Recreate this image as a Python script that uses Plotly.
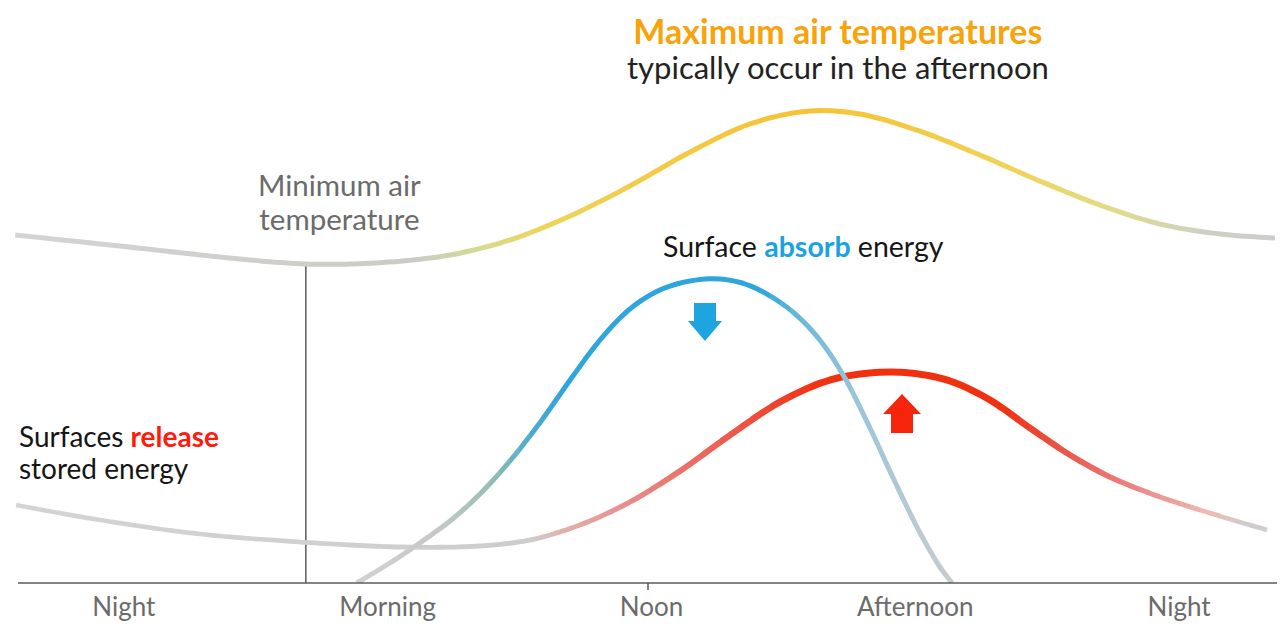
import plotly.graph_objects as go

# ---------------- data (hour of day, relative level) ----------------
time_labels = ["Night", "Morning", "Noon", "Afternoon", "Night"]
time_ticks = [0, 6, 12, 18, 24]

air_hours = [-2.47, -0.09, 2.19, 4.12, 6.05, 7.42, 8.78, 10.15, 11.51, 12.88,
             14.24, 15.60, 16.74, 18.10, 19.47, 20.83, 22.20, 23.56, 24.93, 26.18]
air_level = [3.48, 3.37, 3.26, 3.19, 3.21, 3.28, 3.43, 3.67, 3.97, 4.31,
             4.59, 4.72, 4.69, 4.52, 4.28, 4.02, 3.78, 3.59, 3.49, 3.45]

absorb_hours = [5.30, 6.05, 6.73, 7.42, 8.10, 8.78, 9.46, 10.15, 10.83, 11.51,
                12.19, 12.88, 13.56, 14.13, 14.70, 15.27, 15.83, 16.40, 16.97,
                17.54, 18.11, 18.56, 18.84]
absorb_level = [0.00, 0.20, 0.40, 0.62, 0.89, 1.22, 1.60, 2.03, 2.43, 2.74,
                2.93, 3.02, 3.04, 2.99, 2.87, 2.69, 2.43, 2.05, 1.55,
                1.01, 0.50, 0.16, 0.00]

release_hours = [-2.45, -0.54, 1.73, 4.00, 6.28, 8.10, 9.24, 10.37, 11.51, 12.65,
                 13.79, 14.92, 16.06, 16.97, 17.88, 18.79, 19.70, 20.61, 21.52,
                 22.43, 23.57, 24.70, 26.00]
release_level = [0.78, 0.63, 0.49, 0.41, 0.36, 0.37, 0.43, 0.58, 0.81, 1.12,
                 1.48, 1.81, 2.03, 2.10, 2.10, 2.02, 1.83, 1.55, 1.28,
                 1.06, 0.86, 0.70, 0.53]

min_temp_hour = 4.14
min_temp_level = 3.19

# ---------------- layout geometry / style ----------------
W, H = 1282, 627
PLOT_H = 583                 # plot area height (axis baseline)
H0_PX, PX_PER_H = 123.8, 43.97
X_RANGE = [(0 - H0_PX) / PX_PER_H, (W - H0_PX) / PX_PER_H]
Y_RANGE = [0, 5.83]
FONT = "Lato"


def hx(px):
    return (px - H0_PX) / PX_PER_H


def hex2rgb(h):
    h = h.lstrip('#')
    return [int(h[i:i + 2], 16) for i in (0, 2, 4)]


def sample(stops, px, is_color=True):
    if px <= stops[0][0]:
        return stops[0][1]
    if px >= stops[-1][0]:
        return stops[-1][1]
    for (p0, a), (p1, b) in zip(stops[:-1], stops[1:]):
        if p0 <= px <= p1:
            t = (px - p0) / (p1 - p0)
            if is_color:
                ca, cb = hex2rgb(a), hex2rgb(b)
                c = [round(ca[i] + (cb[i] - ca[i]) * t) for i in range(3)]
                return f"rgb({c[0]},{c[1]},{c[2]})"
            return a + (b - a) * t


air_colors = [(0, '#d4d4d4'), (420, '#cbcbc6'), (480, '#d7da90'), (540, '#ecd55c'),
              (650, '#f3cb45'), (800, '#f6c236'), (900, '#f4c840'), (1020, '#efd45a'),
              (1130, '#dcdc92'), (1200, '#cfd0c2'), (1282, '#cccccc')]
absorb_colors = [(350, '#d2d2d2'), (440, '#c6c8c8'), (490, '#96c0b4'), (530, '#4caad0'),
                 (565, '#2ea6dc'), (760, '#2ea6dc'), (800, '#6ab8d8'), (860, '#9cc6d8'),
                 (920, '#bacbd2'), (960, '#cccccc')]
release_colors = [(0, '#d4d4d4'), (530, '#cdcdcd'), (565, '#dfb0a8'), (620, '#e89090'),
                  (700, '#ea6a60'), (780, '#f0402a'), (820, '#f3300f'), (1000, '#f03010'),
                  (1070, '#e85a50'), (1150, '#eb9090'), (1205, '#f0b8b0'), (1245, '#d2cccc'),
                  (1282, '#cccccc')]
air_width = [(0, 5), (1282, 5)]
absorb_width = [(0, 5), (1282, 5)]
release_width = [(0, 4.5), (600, 5), (800, 7), (1000, 7), (1150, 5), (1282, 4.5)]

curves = [
    (release_hours, release_level, release_colors, release_width),
    (absorb_hours, absorb_level, absorb_colors, absorb_width),
    (air_hours, air_level, air_colors, air_width),
]

fig = go.Figure()
layout_axes = {}
SLICE = 10
k = 2
for px0 in range(0, W, SLICE):
    px1 = min(px0 + SLICE, W)
    pc = (px0 + px1) / 2
    layout_axes[f"xaxis{k}"] = dict(domain=[px0 / W, px1 / W], range=[hx(px0), hx(px1)],
                                    visible=False, anchor='y', fixedrange=True)
    for hrs, lev, cstops, wstops in curves:
        lo = (hrs[0] * PX_PER_H + H0_PX) - 6
        hi = (hrs[-1] * PX_PER_H + H0_PX) + 6
        if px1 < lo or px0 > hi:
            continue
        fig.add_trace(go.Scatter(
            x=hrs, y=lev, mode='lines', xaxis=f"x{k}", yaxis='y',
            line=dict(color=sample(cstops, pc), width=sample(wstops, pc, False),
                      shape='spline', simplify=False),
            hoverinfo='skip', showlegend=False))
    k += 1


def arrow_path(xc_px, tip_y, base_y, head_y, head_w, shaft_w):
    def P(px, py):
        return f"{hx(px):.4f},{(PLOT_H - py) / 100:.4f}"
    pts = [P(xc_px, tip_y), P(xc_px + head_w / 2, head_y), P(xc_px + shaft_w / 2, head_y),
           P(xc_px + shaft_w / 2, base_y), P(xc_px - shaft_w / 2, base_y),
           P(xc_px - shaft_w / 2, head_y), P(xc_px - head_w / 2, head_y)]
    return "M" + " L".join(pts) + " Z"


noon_paper = (hx(648) - X_RANGE[0]) / (X_RANGE[1] - X_RANGE[0])
shapes = [
    dict(type='line', xref='x', yref='y', x0=min_temp_hour, x1=min_temp_hour,
         y0=0, y1=min_temp_level, line=dict(color='#5a5a5a', width=1.5), layer='below'),
    dict(type='line', xref='paper', yref='paper', x0=18 / W, x1=1277 / W, y0=0, y1=0,
         line=dict(color='#5a5a5a', width=1.5)),
    dict(type='line', xref='paper', yref='paper', x0=noon_paper, x1=noon_paper,
         y0=0, y1=-7 / PLOT_H, line=dict(color='#5a5a5a', width=1.5)),
    dict(type='path', xref='x', yref='y', path=arrow_path(705, 341, 303, 321, 34, 22),
         fillcolor='#1ea5e0', line=dict(width=0)),
    dict(type='path', xref='x', yref='y', path=arrow_path(902, 394, 433, 414, 38, 22),
         fillcolor='#f5250c', line=dict(width=0)),
]


def label(px, py, text, size, color, anchor='center'):
    # size sets the line spacing (1.3 x size); glyph sizes are set in the spans
    return dict(x=px / W, y=(PLOT_H - py) / PLOT_H, xref='paper', yref='paper',
                showarrow=False, xanchor=anchor, yanchor='middle', align=anchor,
                font=dict(family=FONT, size=size, color=color), text=text)


def span(text, size, color=None, bold=False):
    style = f"font-size:{size}px"
    if color:
        style += f";fill:{color}"
    inner = f"<b>{text}</b>" if bold else text
    return f"<span style='{style}'>{inner}</span>"


annotations = [
    label(838, 47.5,
          span("Maximum air temperatures", 34, '#f6a30c', True) + "<br>" +
          span("typically occur in the afternoon", 31, '#222222'), 27, '#222222'),
    label(339, 201,
          span("Minimum air", 29.5) + "<br>" + span("temperature", 29.5), 26, '#6b6b6b'),
    label(803, 246,
          span("Surface ", 28.5) + span("absorb", 28.5, '#1aa3e0', True) + span(" energy", 28.5),
          28.5, '#151515'),
    label(17, 452,
          span("Surfaces ", 28) + span("release", 28, '#ff1a0a', True) + "<br>" +
          span("stored energy", 28), 24.6, '#151515', 'left'),
]

fig.update_layout(
    width=W, height=H,
    margin=dict(l=0, r=0, t=0, b=H - PLOT_H, pad=0),
    paper_bgcolor='white', plot_bgcolor='rgba(0,0,0,0)',
    showlegend=False, hovermode=False,
    xaxis=dict(domain=[0, 1], range=X_RANGE, tickvals=time_ticks, ticktext=time_labels,
               showgrid=False, zeroline=False, showline=False, ticks='',
               ticklabelstandoff=6,
               tickfont=dict(family=FONT, size=26, color='#6b6b6b'), fixedrange=True),
    yaxis=dict(domain=[0, 1], range=Y_RANGE, visible=False, fixedrange=True),
    shapes=shapes, annotations=annotations,
    **layout_axes,
)

fig.write_html("out.html", config={'displayModeBar': False},
               post_script="document.body.style.margin='0';document.body.style.overflow='hidden';")
